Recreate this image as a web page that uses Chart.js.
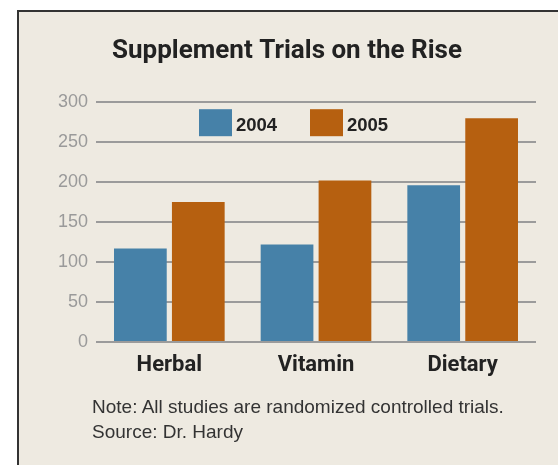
<!DOCTYPE html>
<html>
<head>
<meta charset="utf-8">
<script src="https://cdn.jsdelivr.net/npm/chart.js@4/dist/chart.umd.min.js"></script>
<style>
  body { margin: 0; background: #fff; }
  #panel {
    position: absolute; left: 17px; top: 10px; width: 600px; height: 500px;
    background: #eeeae1; border-left: 2px solid #333; border-top: 2px solid #333;
  }
  #wrap { position: absolute; left: 0; top: 0; width: 558px; height: 465px; }
  .note {
    position: absolute; left: 92px; top: 394px;
    font: 19px "Liberation Sans", Arial, sans-serif; line-height: 25px; color: #333;
  }
</style>
</head>
<body>
<div id="panel"></div>
<div id="wrap"><canvas id="myChart" width="558" height="465"></canvas></div>
<div class="note">Note: All studies are randomized controlled trials.<br>Source: Dr. Hardy</div>
<script>
let categories = ["Herbal", "Vitamin", "Dietary"];
let trials2004 = [117, 122, 196];
let trials2005 = [175, 202, 280];
let yTicks = [0, 50, 100, 150, 200, 250, 300];

const heading = 'Roboto, "Liberation Sans", sans-serif';

// legend drawn inside the plot, like the original
const insideLegend = {
  id: "insideLegend",
  afterDraw(chart) {
    const ctx = chart.ctx;
    const area = chart.chartArea;
    const spots = [103, 214];
    ctx.save();
    chart.data.datasets.forEach((ds, i) => {
      let x = area.left + spots[i];
      ctx.fillStyle = ds.backgroundColor;
      ctx.fillRect(x, area.top + 7, 33, 27);
      ctx.fillStyle = "#222";
      ctx.font = 'bold 18.5px "Liberation Sans", Arial, sans-serif';
      ctx.textBaseline = "alphabetic";
      ctx.fillText(ds.label, x + 37, area.top + 29);
    });
    ctx.restore();
  }
};

new Chart(document.getElementById("myChart"), {
  type: "bar",
  data: {
    labels: categories,
    datasets: [
      { label: "2004", data: trials2004, backgroundColor: "#4681a8",
        categoryPercentage: 0.79, barPercentage: 0.91 },
      { label: "2005", data: trials2005, backgroundColor: "#b66010",
        categoryPercentage: 0.79, barPercentage: 0.91 }
    ]
  },
  options: {
    responsive: false,
    animation: false,
    layout: { padding: { left: 38, right: 22, top: 0, bottom: 73 } },
    plugins: {
      legend: { display: false },
      tooltip: { enabled: false },
      title: {
        display: true,
        text: "Supplement Trials on the Rise",
        color: "#222",
        font: { family: heading, size: 26, weight: "bold", lineHeight: 1.2 },
        padding: { top: 36, bottom: 35 }
      }
    },
    scales: {
      x: {
        grid: { display: false },
        border: { display: false },
        ticks: { color: "#222", padding: 2, font: { family: heading, size: 22, weight: "bold" } },
        afterFit: (s) => { s.height = 50; }
      },
      y: {
        min: 0,
        max: 300,
        afterBuildTicks: (s) => { s.ticks = yTicks.map(v => ({ value: v })); },
        grid: { color: "#9b9b9b", lineWidth: 2, drawTicks: false },
        border: { display: false },
        ticks: { color: "#9a9a9a", padding: 8, font: { family: '"Liberation Sans", Arial, sans-serif', size: 18 } },
        afterFit: (s) => { s.width = 58; }
      }
    }
  },
  plugins: [insideLegend]
});
</script>
</body>
</html>
